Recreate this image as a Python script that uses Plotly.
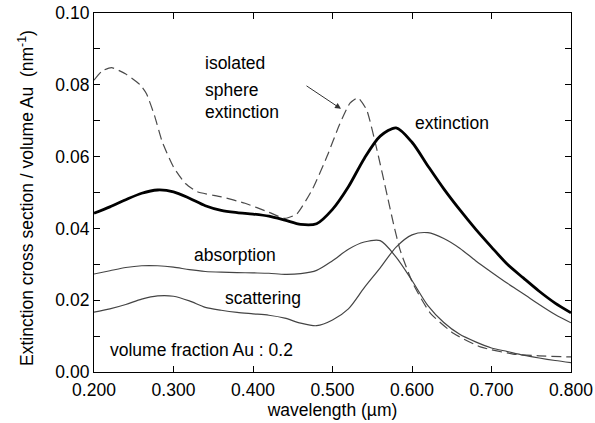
import plotly.graph_objects as go

# Wavelength grid (µm) shared by the effective-medium curves
wavelength = [0.20, 0.22, 0.24, 0.26, 0.28, 0.30, 0.32, 0.34, 0.36, 0.38,
              0.40, 0.42, 0.44, 0.46, 0.48, 0.50, 0.52, 0.54, 0.56, 0.58,
              0.60, 0.62, 0.64, 0.66, 0.68, 0.70, 0.72, 0.74, 0.76, 0.78, 0.80]

extinction = [0.0442, 0.0460, 0.0480, 0.0498, 0.0507, 0.0502, 0.0484, 0.0463, 0.0450, 0.0444,
              0.0440, 0.0434, 0.0423, 0.0411, 0.0413, 0.0453, 0.0516, 0.0595, 0.0657, 0.0680,
              0.0640, 0.0574, 0.0510, 0.0452, 0.0398, 0.0348, 0.0300, 0.0262, 0.0225, 0.0192, 0.0165]

absorption = [0.0273, 0.0282, 0.0291, 0.0296, 0.0296, 0.0292, 0.0285, 0.0280, 0.0278, 0.0277,
              0.0276, 0.0275, 0.0272, 0.0274, 0.0283, 0.0310, 0.0342, 0.0362, 0.0366, 0.0320,
              0.0255, 0.0185, 0.0138, 0.0105, 0.0084, 0.0067, 0.0057, 0.0047, 0.0039, 0.0032, 0.0026]

scattering = [0.0167, 0.0176, 0.0188, 0.0203, 0.0212, 0.0211, 0.0198, 0.0180, 0.0172, 0.0166,
              0.0162, 0.0158, 0.0150, 0.0136, 0.0129, 0.0145, 0.0176, 0.0235, 0.0290, 0.0348,
              0.0382, 0.0388, 0.0372, 0.0345, 0.0310, 0.0278, 0.0247, 0.0218, 0.0188, 0.0160, 0.0137]

# Isolated-sphere extinction (dashed curve)
iso_wavelength = [0.200, 0.210, 0.222, 0.240, 0.258, 0.266, 0.276, 0.286, 0.300, 0.315,
                  0.330, 0.360, 0.390, 0.420, 0.440, 0.455, 0.475, 0.493, 0.509, 0.522,
                  0.532, 0.543, 0.556, 0.569, 0.577, 0.585, 0.601, 0.623, 0.652, 0.686,
                  0.727, 0.760, 0.800]
iso_extinction = [0.0813, 0.0838, 0.0848, 0.0830, 0.0800, 0.0775, 0.0715, 0.0640, 0.0571, 0.0525,
                  0.0502, 0.0488, 0.0470, 0.0445, 0.0428, 0.0440, 0.0510, 0.0600, 0.0690, 0.0749,
                  0.0764, 0.0730, 0.0618, 0.0490, 0.0410, 0.0340, 0.0247, 0.0164, 0.0108, 0.0070,
                  0.0050, 0.0045, 0.0042]

x_ticks = [0.2, 0.3, 0.4, 0.5, 0.6, 0.7, 0.8]
x_ticktext = ["0.200", "0.300", "0.400", "0.500", "0.600", "0.700", "0.800"]
y_ticks = [0.00, 0.02, 0.04, 0.06, 0.08, 0.10]
y_ticktext = ["0.00", "0.02", "0.04", "0.06", "0.08", "0.10"]

FONT = "Liberation Sans, Arial, sans-serif"
FS = 17.5

fig = go.Figure()
fig.add_trace(go.Scatter(x=iso_wavelength, y=iso_extinction, mode="lines",
                         line=dict(color="#4a4a4a", width=1.2, dash="10px,5px",
                                   shape="spline", smoothing=0.5)))
fig.add_trace(go.Scatter(x=wavelength, y=absorption, mode="lines",
                         line=dict(color="#444444", width=1.2, shape="spline", smoothing=0.8)))
fig.add_trace(go.Scatter(x=wavelength, y=scattering, mode="lines",
                         line=dict(color="#444444", width=1.2, shape="spline", smoothing=0.8)))
fig.add_trace(go.Scatter(x=wavelength, y=extinction, mode="lines",
                         line=dict(color="#000000", width=2.8, shape="spline", smoothing=0.8)))

def label(text, x, y):
    fig.add_annotation(x=x, y=y, xref="x", yref="y", text=text, showarrow=False,
                       xanchor="left", yanchor="middle",
                       font=dict(family=FONT, size=FS, color="black"))

label("isolated", 0.337, 0.0861)
label("sphere", 0.337, 0.0786)
label("extinction", 0.337, 0.0725)
label("extinction", 0.601, 0.0694)
label("absorption", 0.323, 0.0326)
label("scattering", 0.362, 0.0206)
label("volume fraction Au : 0.2", 0.2176, 0.0061)

# Arrow pointing at the isolated-sphere resonance
fig.add_annotation(x=0.5107, y=0.0733, xref="x", yref="y", text="",
                   showarrow=True, ax=-36, ay=-24, arrowhead=2, arrowsize=1.2,
                   arrowwidth=1, arrowcolor="#333333")

# Vertical axis title, placed beside the tick labels
fig.add_annotation(x=-0.1426, y=0.4847, xref="paper", yref="paper",
                   text="Extinction cross section / volume Au  (nm<sup>-1</sup>)",
                   textangle=-90, showarrow=False, xanchor="center", yanchor="middle",
                   font=dict(family=FONT, size=FS, color="black"))

axis_common = dict(showline=True, linecolor="black", linewidth=1.2, mirror="ticks",
                   ticks="inside", ticklen=6, tickcolor="black", showgrid=False,
                   zeroline=False, automargin=False,
                   tickfont=dict(family=FONT, size=FS, color="black"))

fig.update_xaxes(range=[0.2, 0.8], tickvals=x_ticks, ticktext=x_ticktext,
                 ticklabelstandoff=2,
                 title=dict(text="wavelength (µm)", font=dict(family=FONT, size=FS, color="black"),
                            standoff=4),
                 **axis_common)
fig.update_yaxes(range=[0.0, 0.1], tickvals=y_ticks, ticktext=y_ticktext,
                 minor=dict(dtick=0.01, ticks="inside", ticklen=6, tickcolor="black"),
                 **axis_common)

fig.update_layout(width=595, height=423, showlegend=False,
                  margin=dict(l=94, r=24, t=13, b=51),
                  paper_bgcolor="white", plot_bgcolor="white",
                  font=dict(family=FONT, size=FS, color="black"))

fig.write_html("out.html")
